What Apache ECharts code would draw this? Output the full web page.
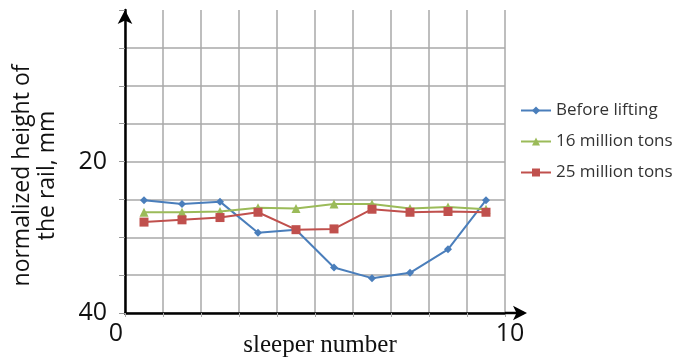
<!DOCTYPE html>
<html>
<head>
<meta charset="utf-8">
<script src="https://cdn.jsdelivr.net/npm/echarts@6/dist/echarts.min.js"></script>
<style>
  html, body { margin: 0; padding: 0; background: #ffffff; }
  #chart { width: 685px; height: 363px; }
</style>
</head>
<body>
<div id="chart"></div>
<script>
// sleeper positions (points sit between the grid lines)
const sleepers = [0.5, 1.5, 2.5, 3.5, 4.5, 5.5, 6.5, 7.5, 8.5, 9.5];
const beforeLifting = [25.1, 25.6, 25.3, 29.4, 29.0, 34.0, 35.4, 34.7, 31.6, 25.1];
const million16 = [26.7, 26.7, 26.6, 26.1, 26.2, 25.6, 25.6, 26.2, 26.0, 26.3];
const million25 = [28.0, 27.7, 27.4, 26.7, 29.0, 28.9, 26.3, 26.7, 26.6, 26.7];
const seriesNames = ['Before lifting', '16 million tons', '25 million tons'];
const yLabels = [20, 40];
const xLabels = [0, 10];

const chart = echarts.init(document.getElementById('chart'), null, { renderer: 'canvas' });

const pair = vals => sleepers.map((x, i) => [x, vals[i]]);

const lineSeries = (name, vals, color, symbol, size) => ({
  name: name,
  type: 'line',
  data: pair(vals),
  symbol: symbol,
  symbolSize: size,
  lineStyle: { color: color, width: 2 },
  itemStyle: { color: color },
  z: 5
});

const option = {
  backgroundColor: '#ffffff',
  animation: false,
  grid: { left: 125, right: 180, top: 10, bottom: 50, outerBoundsMode: 'none' },
  legend: {
    orient: 'vertical',
    left: 515,
    top: 97,
    itemWidth: 30,
    itemHeight: 10,
    itemGap: 14,
    data: seriesNames,
    textStyle: { fontFamily: 'Open Sans', fontSize: 17, color: '#333' }
  },
  xAxis: {
    type: 'value',
    min: 0,
    max: 10,
    interval: 1,
    name: 'sleeper number',
    nameLocation: 'middle',
    nameGap: 20,
    nameMoveOverlap: false,
    nameTextStyle: {
      fontFamily: 'Liberation Serif',
      fontSize: 25,
      color: '#111',
      padding: [0, 0, 0, 10]
    },
    axisLine: {
      show: true,
      onZero: false,
      symbol: ['none', 'arrow'],
      symbolSize: [11, 14],
      symbolOffset: [0, 22],
      lineStyle: { color: '#000', width: 2.5 }
    },
    axisTick: { show: true, length: 4, lineStyle: { color: '#aaa' } },
    axisLabel: {
      margin: 8,
      fontFamily: 'Open Sans',
      fontSize: 25,
      color: '#111',
      formatter: v => v === xLabels[0] ? '{l|' + v + '}' : (v === xLabels[1] ? '{r|' + v + '}' : ''),
      rich: {
        l: { fontFamily: 'Open Sans', fontSize: 25, color: '#111', padding: [0, 18, 0, 0] },
        r: { fontFamily: 'Open Sans', fontSize: 25, color: '#111', padding: [0, 0, 0, 10] }
      }
    },
    splitLine: { show: true, lineStyle: { color: '#a8a8a8', width: 1.5 } }
  },
  yAxis: {
    type: 'value',
    inverse: true,
    min: 0,
    max: 40,
    interval: 5,
    name: 'normalized height of\nthe rail, mm',
    nameLocation: 'middle',
    nameRotate: 90,
    nameGap: 65,
    nameMoveOverlap: false,
    nameTextStyle: {
      fontFamily: 'Open Sans',
      fontSize: 23,
      lineHeight: 25,
      color: '#111',
      align: 'center',
      padding: [0, 28, 0, 0]
    },
    axisLine: {
      show: true,
      symbol: ['none', 'arrow'],
      symbolSize: [11, 14],
      lineStyle: { color: '#000', width: 2.5 }
    },
    axisTick: { show: true, length: 6, lineStyle: { color: '#999' } },
    axisLabel: {
      margin: 18,
      fontFamily: 'Open Sans',
      fontSize: 25,
      color: '#111',
      formatter: v => yLabels.indexOf(v) >= 0 ? String(v) : ''
    },
    splitLine: { show: true, showMinLine: false, lineStyle: { color: '#a8a8a8', width: 1.5 } }
  },
  graphic: [
    {
      // x axis runs on a little past the last grid line
      type: 'line',
      shape: { x1: 505, y1: 313, x2: 524, y2: 313 },
      style: { stroke: '#000', lineWidth: 2.5 },
      z: 10
    }
  ],
  series: [
    lineSeries(seriesNames[0], beforeLifting, '#4a7ebb', 'diamond', 8),
    lineSeries(seriesNames[1], million16, '#9bbb59', 'triangle', 9),
    lineSeries(seriesNames[2], million25, '#c0504d', 'rect', 9)
  ]
};

chart.setOption(option);
</script>
</body>
</html>
